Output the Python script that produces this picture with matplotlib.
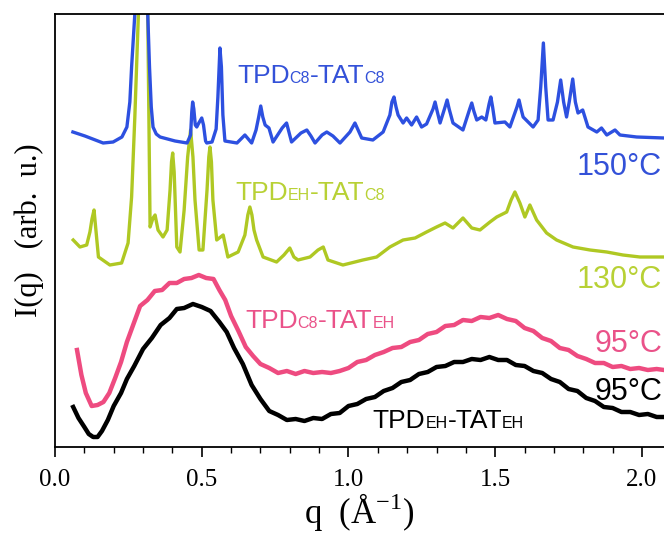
import matplotlib
matplotlib.use('Agg')
import matplotlib.pyplot as plt
from matplotlib.ticker import MultipleLocator

plt.rcParams['mathtext.fontset'] = 'custom'
plt.rcParams['mathtext.rm'] = 'Liberation Serif'

# ---- data (q in 1/A, intensity in arbitrary offset units) ----
q_c8c8 = [0.061, 0.102, 0.164, 0.198, 0.228, 0.245, 0.255, 0.261, 0.272, 0.29, 0.316, 0.322,
          0.328, 0.334, 0.345, 0.358, 0.409, 0.45, 0.462, 0.466, 0.469, 0.473, 0.478, 0.483,
          0.49, 0.50, 0.506, 0.513, 0.517, 0.535, 0.549, 0.555, 0.562, 0.567, 0.572, 0.579,
          0.62, 0.647, 0.67, 0.685, 0.694, 0.701, 0.708, 0.716, 0.729, 0.743, 0.774, 0.789,
          0.806, 0.838, 0.858, 0.872, 0.886, 0.91, 0.926, 0.947, 0.971, 1.005, 1.022, 1.045,
          1.083, 1.118, 1.141, 1.148, 1.155, 1.162, 1.169, 1.186, 1.198, 1.215, 1.232, 1.249,
          1.266, 1.288, 1.295, 1.302, 1.312, 1.329, 1.336, 1.343, 1.356, 1.39, 1.413, 1.42,
          1.427, 1.437, 1.454, 1.468, 1.479, 1.485, 1.491, 1.499, 1.533, 1.55, 1.574, 1.581,
          1.588, 1.595, 1.629, 1.646, 1.655, 1.664, 1.672, 1.68, 1.697, 1.712, 1.723, 1.733,
          1.743, 1.752, 1.764, 1.773, 1.782, 1.798, 1.816, 1.846, 1.862, 1.88, 1.908, 1.925,
          1.982, 2.075]
I_c8c8 = [315, 311, 304, 305, 310, 320, 345, 380, 433, 700, 433, 380,
          340, 320, 313, 310, 306, 304, 312, 335, 345, 338, 322, 320,
          324, 329, 322, 306, 304, 305, 318, 350, 399, 380, 332, 306,
          304, 312, 304, 317, 330, 341, 330, 322, 319, 305, 319, 324,
          305, 314, 317, 311, 304, 312, 315, 311, 304, 315, 324, 309,
          307, 315, 332, 345, 350, 340, 332, 324, 329, 322, 330, 320,
          323, 338, 345, 336, 324, 340, 347, 338, 324, 317, 338, 344,
          336, 327, 330, 327, 343, 350, 340, 324, 325, 320, 340, 347,
          338, 330, 320, 327, 360, 404, 360, 327, 327, 345, 367, 345,
          330, 345, 368, 345, 334, 337, 320, 315, 319, 312, 317, 312,
          310, 309]

q_ehc8 = [0.062, 0.085, 0.108, 0.119, 0.126, 0.133, 0.14, 0.148, 0.187, 0.227, 0.249, 0.261,
          0.272, 0.285, 0.305, 0.316, 0.324, 0.334, 0.341, 0.351, 0.368, 0.382, 0.392, 0.397,
          0.401, 0.406, 0.415, 0.426, 0.44, 0.452, 0.462, 0.47, 0.477, 0.491, 0.504, 0.518,
          0.524, 0.528, 0.533, 0.538, 0.551, 0.573, 0.589, 0.624, 0.647, 0.657, 0.664, 0.671,
          0.678, 0.687, 0.709, 0.755, 0.78, 0.80, 0.814, 0.828, 0.869, 0.896, 0.914, 0.93,
          0.981, 1.022, 1.049, 1.096, 1.141, 1.186, 1.227, 1.266, 1.30, 1.329, 1.356, 1.39,
          1.42, 1.448, 1.482, 1.505, 1.539, 1.554, 1.567, 1.584, 1.601, 1.618, 1.641, 1.675,
          1.709, 1.765, 1.823, 1.88, 1.935, 1.993, 2.075]
I_ehc8 = [207, 200, 202, 215, 228, 237, 215, 190, 182, 184, 204, 250,
          330, 440, 800, 433, 220, 229, 232, 217, 210, 217, 257, 285,
          294, 275, 200, 195, 237, 290, 317, 290, 247, 197, 197, 257,
          290, 300, 285, 247, 207, 212, 190, 195, 212, 232, 240, 232,
          217, 207, 190, 185, 192, 199, 190, 187, 190, 197, 200, 187,
          182, 185, 187, 190, 200, 207, 209, 215, 220, 224, 219, 229,
          219, 217, 225, 230, 235, 247, 255, 244, 230, 242, 227, 214,
          207, 200, 197, 195, 192, 190, 190]

q_c8eh = [0.075, 0.09, 0.105, 0.125, 0.145, 0.165, 0.185, 0.205, 0.225, 0.245, 0.265, 0.29,
          0.315, 0.34, 0.365, 0.39, 0.415, 0.44, 0.465, 0.49, 0.515, 0.54, 0.56, 0.58,
          0.60, 0.625, 0.65, 0.675, 0.70, 0.73, 0.76, 0.79, 0.82, 0.85, 0.88, 0.91,
          0.94, 0.97, 1.00, 1.03, 1.06, 1.09, 1.12, 1.15, 1.18, 1.21, 1.24, 1.27,
          1.30, 1.33, 1.36, 1.39, 1.42, 1.45, 1.48, 1.51, 1.54, 1.57, 1.60, 1.63,
          1.66, 1.69, 1.72, 1.75, 1.78, 1.81, 1.84, 1.87, 1.90, 1.93, 1.96, 1.99,
          2.02, 2.05, 2.075]
I_c8eh = [97, 72, 54, 41, 42, 45, 54, 69, 85, 105, 121, 141,
          147, 156, 157, 164, 164, 168, 169, 172, 169, 168, 157, 147,
          131, 116, 100, 91, 83, 79, 74, 76, 73, 76, 74, 75,
          74, 76, 79, 85, 87, 92, 95, 99, 100, 105, 107, 113,
          115, 121, 122, 127, 126, 130, 129, 132, 128, 126, 119, 116,
          109, 106, 99, 97, 91, 88, 84, 84, 80, 81, 78, 79,
          77, 78, 77]

q_eheh = [0.062, 0.08, 0.10, 0.115, 0.13, 0.145, 0.16, 0.18, 0.20, 0.225, 0.245, 0.27,
          0.30, 0.33, 0.36, 0.39, 0.415, 0.44, 0.47, 0.50, 0.53, 0.56, 0.585, 0.61,
          0.64, 0.67, 0.70, 0.73, 0.76, 0.79, 0.82, 0.85, 0.88, 0.91, 0.94, 0.97,
          1.00, 1.03, 1.06, 1.09, 1.12, 1.15, 1.18, 1.21, 1.24, 1.27, 1.30, 1.33,
          1.36, 1.39, 1.42, 1.45, 1.48, 1.51, 1.54, 1.57, 1.60, 1.63, 1.66, 1.69,
          1.72, 1.75, 1.78, 1.81, 1.84, 1.87, 1.90, 1.93, 1.96, 1.99, 2.02, 2.05, 2.075]
I_eheh = [40, 29, 20, 13, 10, 10, 16, 27, 41, 54, 68, 81,
          98, 109, 122, 129, 138, 139, 143, 140, 136, 125, 115, 99,
          83, 62, 48, 36, 32, 27, 28, 26, 29, 28, 33, 34,
          41, 43, 48, 50, 56, 59, 65, 67, 73, 75, 80, 81,
          85, 85, 88, 87, 90, 87, 87, 82, 81, 76, 74, 68,
          65, 58, 56, 49, 46, 40, 39, 35, 35, 32, 33, 30, 30]

x_ticks = [0.0, 0.5, 1.0, 1.5, 2.0]
x_ticklabels = ['0.0', '0.5', '1.0', '1.5', '2.0']

BLUE = '#2D50E0'
GREEN = '#AFC823'
PINK = '#EE4B80'
BLACK = '#000000'


def sample_label(ax, x, y, parts, color, big=19, small=11.5):
    """Write a label like TPD<small>C8</small>-TAT<small>C8</small>."""
    shift = 0.21 * (big - small)
    t = ax.text(x, y, parts[0], fontsize=big, color=color, va='baseline',
                family='Liberation Sans')
    for i, s in enumerate(parts[1:]):
        is_small = (i % 2 == 0)
        t = ax.annotate(s, xy=(1, 0), xycoords=t,
                        xytext=(0, shift if is_small else -shift), textcoords='offset points',
                        fontsize=small if is_small else big, color=color,
                        va='bottom', ha='left', family='Liberation Sans')


fig = plt.figure(figsize=(6.64, 5.34), dpi=100)
ax = fig.add_axes([55 / 664, 87 / 534, 609 / 664, 433 / 534])

ax.plot(q_eheh, I_eheh, color=BLACK, lw=3.2, solid_joinstyle='round')
ax.plot(q_c8eh, I_c8eh, color=PINK, lw=3.2, solid_joinstyle='round')
ax.plot(q_ehc8, I_ehc8, color=GREEN, lw=2.4, solid_joinstyle='round')
ax.plot(q_c8c8, I_c8c8, color=BLUE, lw=2.4, solid_joinstyle='round')

ax.set_xlim(0, 2.075)
ax.set_ylim(0, 433)
ax.set_yticks([])
ax.set_xticks(x_ticks)
ax.set_xticklabels(x_ticklabels, family='Liberation Serif', fontsize=18)
ax.xaxis.set_minor_locator(MultipleLocator(0.1))
ax.tick_params(axis='x', which='major', direction='out', length=7, width=1.2, pad=9)
ax.tick_params(axis='x', which='minor', direction='out', length=4.5, width=1.0)
ax.spines['right'].set_visible(False)
for side in ['left', 'top', 'bottom']:
    ax.spines[side].set_linewidth(1.3)

ax.set_xlabel('q  (Å$^{\\mathregular{-1}}$)', family='Liberation Serif', fontsize=25, labelpad=0)
ax.set_ylabel('I(q)   (arb.  u.)', family='Liberation Serif', fontsize=22, labelpad=8)

sample_label(ax, 0.62, 364, ['TPD', 'C8', '-TAT', 'C8'], '#3351D8')
sample_label(ax, 0.613, 247, ['TPD', 'EH', '-TAT', 'C8'], '#B8D135')
sample_label(ax, 0.647, 119, ['TPD', 'C8', '-TAT', 'EH'], '#EA5289')
sample_label(ax, 1.083, 19, ['TPD', 'EH', '-TAT', 'EH'], BLACK)

temp_kw = dict(fontsize=22, va='baseline', family='Liberation Sans')
ax.text(1.776, 272, '150°C', color='#3351D8', **temp_kw)
ax.text(1.776, 159, '130°C', color='#B8D135', **temp_kw)
ax.text(1.838, 95, '95°C', color='#EA5289', **temp_kw)
ax.text(1.838, 47, '95°C', color=BLACK, **temp_kw)

fig.savefig('out.png', dpi=100)
